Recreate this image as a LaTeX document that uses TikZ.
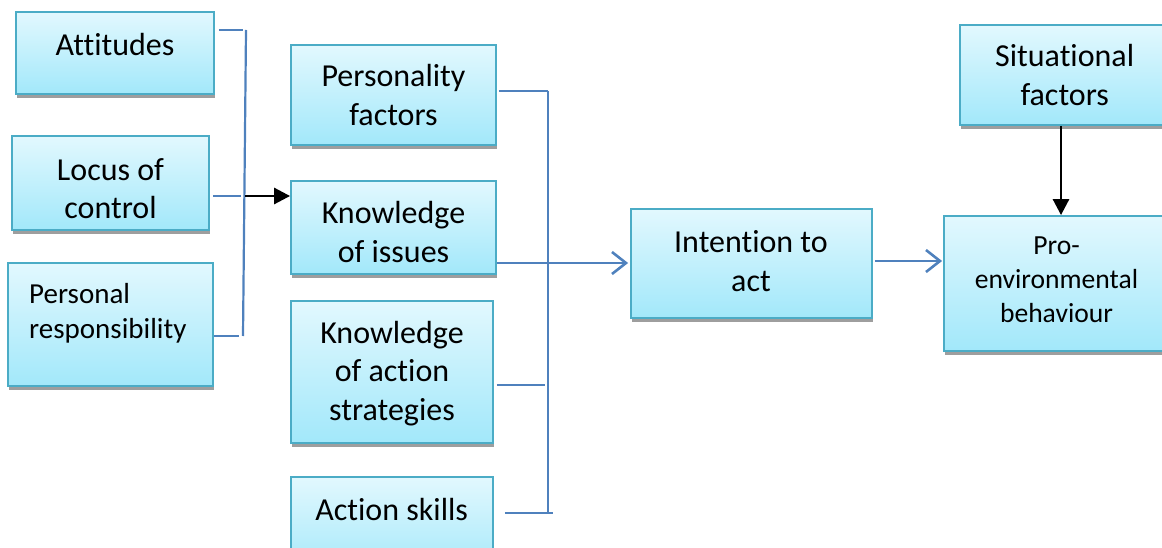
\documentclass[tikz,border=0pt]{standalone}
\usepackage{fontspec}
\setmainfont{Carlito}[Ligatures={NoCommon}]
\usepackage{tikz}
\usetikzlibrary{arrows.meta,shadows}

\definecolor{boxline}{RGB}{75,172,198}
\definecolor{boxtop}{RGB}{226,248,254}
\definecolor{boxbot}{RGB}{162,232,250}
\definecolor{shadowgray}{RGB}{158,158,158}
\definecolor{linkblue}{RGB}{79,129,189}

\begin{document}
\begin{tikzpicture}[x=1pt, y=-1pt,
  box/.style={draw=boxline, line width=1.8pt, top color=boxtop, bottom color=boxbot,
    drop shadow={shadow xshift=1pt, shadow yshift=-4pt, fill=shadowgray, opacity=1},
    inner sep=0pt},
  lbl/.style={font=\fontsize{32}{38.5}\selectfont, align=center, inner sep=0pt},
  link/.style={draw=linkblue, line width=2.2pt},
  flow/.style={draw=linkblue, line width=2.6pt, -{Straight Barb[length=14pt, width=22pt, line width=2.6pt]}},
  push/.style={draw=black, line width=2.8pt, -{Triangle[length=16pt, width=16pt]}}]
\useasboundingbox (0,0) rectangle (1162,548);

% boxes
\node[box, minimum width=198, minimum height=82] (att) at (115,53) {};
\node[box, minimum width=197, minimum height=94] (loc) at (110.5,183) {};
\node[box, minimum width=205, minimum height=123] (res) at (110.5,324.5) {};
\node[box, minimum width=205, minimum height=100] (per) at (393.5,95) {};
\node[box, minimum width=205, minimum height=93] (kno) at (393.5,227.5) {};
\node[box, minimum width=202, minimum height=142] (str) at (392,372) {};
\node[box, minimum width=202, minimum height=100] (ski) at (392,527) {};
\node[box, minimum width=241, minimum height=109] (int) at (751.5,263.5) {};
\node[box, minimum width=225, minimum height=135] (pro) at (1056.5,283.5) {};
\node[box, minimum width=209, minimum height=100] (sit) at (1064.5,75) {};

% texts
\node[lbl] (att-t) at (115,44.5) {Attitudes};
\node[lbl] (loc-t) at (110.5,188.8) {Locus of\\control};
\node[lbl, font=\fontsize{29}{35}\selectfont, align=left, anchor=west] (res-t) at (29,313.5) {Personal\\responsibility};
\node[lbl] (per-t) at (393.5,94.8) {Personality\\factors};
\node[lbl] (kno-t) at (393.5,231.8) {Knowledge\\of issues};
\node[lbl] (str-t) at (392,373.5) {Knowledge\\of action\\strategies};
\node[lbl] (ski-t) at (391.7,509.3) {Action skills};
\node[lbl] (int-t) at (751,261.3) {Intention to\\act};
\node[lbl, font=\fontsize{27.6}{34}\selectfont] (pro-t) at (1056.5,279.5) {Pro-\\environmental\\behaviour};
\node[lbl] (sit-t) at (1064.7,74.8) {Situational\\factors};

% left bracket
\coordinate (lb1) at (246,30);
\coordinate (lb2) at (245,196);
\coordinate (lb3) at (243,336);
\draw[link] (lb1) -- (lb3);
\draw[link, shorten <=4pt, shorten >=3pt] (att.east |- lb1) -- (lb1);
\draw[link, shorten <=3pt, shorten >=4pt] (loc.east |- lb2) -- (lb2);
\draw[link, shorten >=4pt] (res.east |- lb3) -- (lb3);
\draw[push] (lb2) -- (kno.west |- lb2);

% right bracket
\coordinate (rb1) at (548,91);
\coordinate (rb2) at (548,263);
\coordinate (rb3) at (548,385);
\coordinate (rb4) at (548,513);
\draw[link] (rb1) -- (rb4);
\draw[link, shorten <=2pt] (per.east |- rb1) -- (rb1);
\draw[link, shorten <=3pt, shorten >=3pt] (str.east |- rb3) -- (rb3);
\draw[link, shorten <=11pt, shorten >=-5pt] (ski.east |- rb4) -- (rb4);
\draw[flow, shorten >=2pt] (kno.east |- rb2) -- (int.west |- rb2);

% right part
\coordinate (ip) at (900,261);
\draw[flow, shorten <=2pt, shorten >=1pt] (int.east |- ip) -- (pro.west |- ip);
\coordinate (sa) at (1061,0);
\draw[push] (sit.south -| sa) -- (pro.north -| sa);

\end{tikzpicture}
\end{document}
